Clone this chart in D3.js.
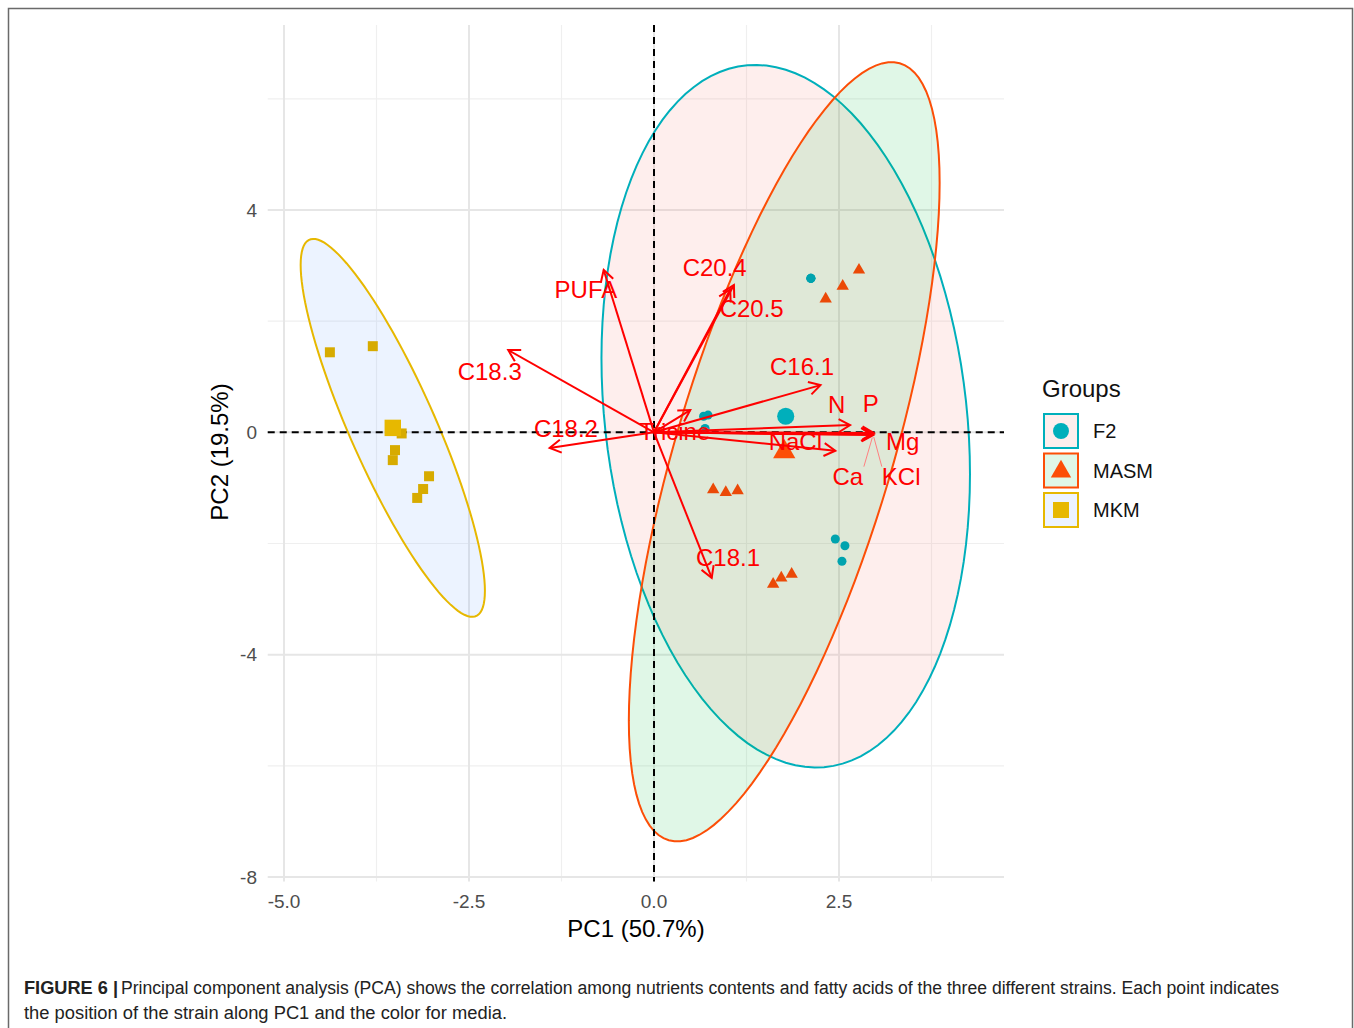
<!DOCTYPE html>
<html>
<head>
<meta charset="utf-8">
<script src="https://cdn.jsdelivr.net/npm/d3@7"></script>
<style>
  html, body { margin: 0; padding: 0; background: #fff; }
  svg { display: block; }
</style>
</head>
<body>
<script>
// ---------- data ----------
const groups = ["F2", "MASM", "MKM"];
const groupColors = ["#00AFBB", "#FC4E07", "#E7B800"];
const groupFills = ["#F8766D", "#00BA38", "#619CFF"];
const groupShapes = ["circle", "triangle", "square"];

// individual scores (PC1, PC2)
const indGroup = ["F2","F2","F2","F2","F2","F2","F2","F2","F2",
                  "MASM","MASM","MASM","MASM","MASM","MASM","MASM","MASM","MASM",
                  "MKM","MKM","MKM","MKM","MKM","MKM","MKM","MKM","MKM"];
const indPC1 = [2.12, 2.12, 2.12, 0.67, 0.73, 0.69, 2.45, 2.58, 2.54,
                2.77, 2.55, 2.32, 0.80, 0.97, 1.13, 1.61, 1.72, 1.86,
                -4.38, -3.80, -3.41, -3.50, -3.53, -3.04, -3.12, -3.20, -3.55];
const indPC2 = [2.77, 2.77, 2.77, 0.29, 0.31, 0.07, -1.92, -2.04, -2.32,
                2.92, 2.63, 2.40, -1.03, -1.08, -1.05, -2.73, -2.62, -2.55,
                1.44, 1.55, -0.02, -0.32, -0.50, -0.79, -1.02, -1.18, 0.05];

// group centres and concentration ellipse shape (sd x, sd y, correlation)
const centerPC1 = [1.78, 1.76, -3.53];
const centerPC2 = [0.29, -0.35, 0.08];
const ellSdX = [2.49, 2.10, 1.245];
const ellSdY = [6.32, 7.01, 3.40];
const ellCor = [-0.165, 0.69, -0.862];

// variable loadings (arrow tips) and label placement
const varNames = ["PUFA","C20.4","C20.5","C18.3","C16.1","C18.2","Tricine",
                  "N","P","NaCl","Mg","Ca","KCl","C18.1"];
const varPC1 = [-0.68, 1.08, 1.03, -1.97, 2.25, -1.41, 0.49,
                2.65, 2.97, 2.45, 2.96, 2.95, 2.97, 0.78];
const varPC2 = [2.92, 2.65, 2.57, 1.48, 0.85, -0.28, 0.40,
                0.13, -0.01, -0.33, -0.05, -0.04, -0.03, -2.62];
const labPC1 = [-0.92, 0.82, 1.32, -2.22, 2.00, -1.19, 0.28,
                2.47, 2.93, 1.91, 3.36, 2.62, 3.34, 1.00];
const labPC2 = [2.56, 2.97, 2.22, 1.10, 1.19, 0.07, 0.02,
                0.49, 0.52, -0.16, -0.16, -0.79, -0.79, -2.25];

const xTicks = [-5.0, -2.5, 0.0, 2.5];
const xTickLabels = ["-5.0", "-2.5", "0.0", "2.5"];
const xMinor = [-3.75, -1.25, 1.25, 3.75];
const yTicks = [4, 0, -4, -8];
const yTickLabels = ["4", "0", "-4", "-8"];
const yMinor = [6, 2, -2, -6];
const xLimits = [-5.22, 4.73];
const yLimits = [-8.08, 7.33];

const xTitle = "PC1 (50.7%)";
const yTitle = "PC2 (19.5%)";
const legendTitle = "Groups";
const captionBold = "FIGURE 6 |";
const captionLine1 = "Principal component analysis (PCA) shows the correlation among nutrients contents and fatty acids of the three different strains. Each point indicates";
const captionLine2 = "the position of the strain along PC1 and the color for media.";

// ---------- setup ----------
const W = 1354, H = 1028;
const svg = d3.select("body").append("svg").attr("width", W).attr("height", H)
  .style("font-family", "'Liberation Sans', Arial, sans-serif");

const x = d3.scaleLinear().domain([-5, 2.5]).range([284, 839]);
const y = d3.scaleLinear().domain([-8, 4]).range([877, 210]);

const px0 = x(xLimits[0]), px1 = x(xLimits[1]);
const py0 = y(yLimits[1]), py1 = y(yLimits[0]);

// outer frame
svg.append("path")
  .attr("d", `M8.5,${H} L8.5,8.5 L1352.5,8.5 L1352.5,${H}`)
  .attr("fill", "none").attr("stroke", "#6a6a6a").attr("stroke-width", 1.5);

// ---------- grid ----------
const grid = svg.append("g");
grid.selectAll(".vmin").data(xMinor).join("line")
  .attr("x1", d => x(d)).attr("x2", d => x(d)).attr("y1", py0).attr("y2", py1)
  .attr("stroke", "#EFEFEF").attr("stroke-width", 1.2);
grid.selectAll(".hmin").data(yMinor).join("line")
  .attr("y1", d => y(d)).attr("y2", d => y(d)).attr("x1", px0).attr("x2", px1)
  .attr("stroke", "#EFEFEF").attr("stroke-width", 1.2);
grid.selectAll(".vmaj").data(xTicks).join("line")
  .attr("x1", d => x(d)).attr("x2", d => x(d)).attr("y1", py0).attr("y2", py1)
  .attr("stroke", "#E6E6E6").attr("stroke-width", 2);
grid.selectAll(".hmaj").data(yTicks).join("line")
  .attr("y1", d => y(d)).attr("y2", d => y(d)).attr("x1", px0).attr("x2", px1)
  .attr("stroke", "#E6E6E6").attr("stroke-width", 2);

// ---------- ellipses ----------
function ellipsePoints(i) {
  const pts = [];
  const s = Math.sqrt(1 - ellCor[i] * ellCor[i]);
  for (let k = 0; k <= 120; k++) {
    const t = (k / 120) * 2 * Math.PI;
    const dx = ellSdX[i] * Math.cos(t);
    const dy = ellSdY[i] * (ellCor[i] * Math.cos(t) + s * Math.sin(t));
    pts.push([x(centerPC1[i] + dx), y(centerPC2[i] + dy)]);
  }
  return pts;
}
const line = d3.line().curve(d3.curveLinearClosed);
const ellG = svg.append("g");
groups.forEach((g, i) => {
  ellG.append("path").attr("d", line(ellipsePoints(i)))
    .attr("fill", groupFills[i]).attr("fill-opacity", 0.12)
    .attr("stroke", groupColors[i]).attr("stroke-width", 2);
});

// ---------- reference lines ----------
svg.append("line").attr("x1", px0).attr("x2", px1).attr("y1", y(0)).attr("y2", y(0))
  .attr("stroke", "#000").attr("stroke-width", 2).attr("stroke-dasharray", "7,5");
svg.append("line").attr("x1", x(0)).attr("x2", x(0)).attr("y1", py0).attr("y2", py1)
  .attr("stroke", "#000").attr("stroke-width", 2).attr("stroke-dasharray", "7,5");

// ---------- points ----------
const symType = { circle: d3.symbolCircle, triangle: d3.symbolTriangle, square: d3.symbolSquare };
const smallSize = { circle: 64, triangle: 66, square: 100 };
const bigSize = { circle: 230, triangle: 215, square: 270 };
const ptG = svg.append("g");
indGroup.forEach((g, k) => {
  const i = groups.indexOf(g);
  const shp = groupShapes[i];
  ptG.append("path")
    .attr("d", d3.symbol().type(symType[shp]).size(smallSize[shp])())
    .attr("transform", `translate(${x(indPC1[k])},${y(indPC2[k])})`)
    .attr("fill", d3.color(groupColors[i]).darker(0.2));
});
groups.forEach((g, i) => {
  const shp = groupShapes[i];
  ptG.append("path")
    .attr("d", d3.symbol().type(symType[shp]).size(bigSize[shp])())
    .attr("transform", `translate(${x(centerPC1[i])},${y(centerPC2[i])})`)
    .attr("fill", groupColors[i]);
});

// ---------- variable arrows ----------
const red = "#FF0000";
const arG = svg.append("g");
const ox = x(0), oy = y(0);
varNames.forEach((v, k) => {
  const tx = x(varPC1[k]), ty = y(varPC2[k]);
  const ang = Math.atan2(ty - oy, tx - ox);
  const L = 13, a = Math.PI / 6;
  arG.append("line").attr("x1", ox).attr("y1", oy).attr("x2", tx).attr("y2", ty)
    .attr("stroke", red).attr("stroke-width", 2);
  arG.append("path")
    .attr("d", `M${tx - L * Math.cos(ang - a)},${ty - L * Math.sin(ang - a)} L${tx},${ty} L${tx - L * Math.cos(ang + a)},${ty - L * Math.sin(ang + a)}`)
    .attr("fill", "none").attr("stroke", red).attr("stroke-width", 2);
});

// labels with leader segments when far from the tip
const labG = svg.append("g");
varNames.forEach((v, k) => {
  const t = labG.append("text")
    .attr("x", x(labPC1[k])).attr("y", y(labPC2[k])).attr("dy", "0.35em")
    .attr("text-anchor", "middle").attr("fill", red).attr("font-size", 24)
    .text(v);
  const bb = t.node().getBBox();
  const tx = x(varPC1[k]), ty = y(varPC2[k]);
  const cx = Math.max(bb.x, Math.min(tx, bb.x + bb.width));
  const cy = Math.max(bb.y + 4, Math.min(ty, bb.y + bb.height - 2));
  if (Math.hypot(cx - tx, cy - ty) > 25) {
    labG.append("line").attr("x1", cx).attr("y1", cy).attr("x2", tx).attr("y2", ty + 3)
      .attr("stroke", "#FF8080").attr("stroke-width", 1);
  }
});

// ---------- axes text ----------
const tickCol = "#4D4D4D";
svg.append("g").selectAll("text").data(xTicks).join("text")
  .attr("x", d => x(d)).attr("y", 908).attr("text-anchor", "middle")
  .attr("fill", tickCol).attr("font-size", 19).text((d, i) => xTickLabels[i]);
svg.append("g").selectAll("text").data(yTicks).join("text")
  .attr("x", 257).attr("y", d => y(d)).attr("dy", "0.35em").attr("text-anchor", "end")
  .attr("fill", tickCol).attr("font-size", 19).text((d, i) => yTickLabels[i]);

svg.append("text").attr("x", 636).attr("y", 937).attr("text-anchor", "middle")
  .attr("font-size", 24).attr("fill", "#000").text(xTitle);
svg.append("text").attr("transform", `translate(228,452) rotate(-90)`)
  .attr("text-anchor", "middle").attr("font-size", 24).attr("fill", "#000").text(yTitle);

// ---------- legend ----------
const lg = svg.append("g").attr("transform", "translate(1042,0)");
lg.append("text").attr("x", 0).attr("y", 397).attr("font-size", 24).attr("fill", "#111").text(legendTitle);
const legendSize = { circle: 200, triangle: 180, square: 256 };
groups.forEach((g, i) => {
  const cy = 431 + i * 39.5;
  lg.append("rect").attr("x", 2).attr("y", cy - 17).attr("width", 34).attr("height", 34)
    .attr("fill", "#fff");
  lg.append("rect").attr("x", 2).attr("y", cy - 17).attr("width", 34).attr("height", 34)
    .attr("fill", groupFills[i]).attr("fill-opacity", 0.12)
    .attr("stroke", groupColors[i]).attr("stroke-width", 2);
  const shp = groupShapes[i];
  lg.append("path").attr("d", d3.symbol().type(symType[shp]).size(legendSize[shp])())
    .attr("transform", `translate(19,${cy + (shp === "triangle" ? 1 : 0)})`)
    .attr("fill", groupColors[i]);
  lg.append("text").attr("x", 51).attr("y", cy).attr("dy", "0.35em")
    .attr("font-size", 20).attr("fill", "#111").text(g);
});

// ---------- caption ----------
const capFont = "'Liberation Sans Narrow', 'Liberation Sans', Arial, sans-serif";
svg.append("text").attr("x", 24).attr("y", 994).attr("font-family", capFont)
  .attr("font-size", 18).attr("font-weight", "bold").attr("fill", "#222")
  .attr("textLength", 94).attr("lengthAdjust", "spacingAndGlyphs").text(captionBold);
svg.append("text").attr("x", 121).attr("y", 994).attr("font-family", capFont)
  .attr("font-size", 18).attr("fill", "#222")
  .attr("textLength", 1158).attr("lengthAdjust", "spacingAndGlyphs").text(captionLine1);
svg.append("text").attr("x", 24).attr("y", 1019).attr("font-family", capFont)
  .attr("font-size", 18).attr("fill", "#222")
  .attr("textLength", 483).attr("lengthAdjust", "spacingAndGlyphs").text(captionLine2);
</script>
</body>
</html>
